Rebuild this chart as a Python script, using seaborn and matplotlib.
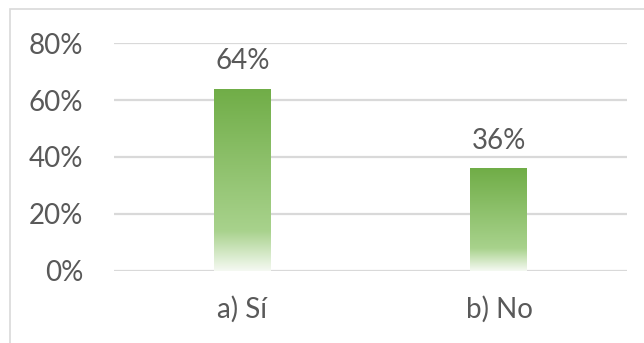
import numpy as np
import pandas as pd
import matplotlib
matplotlib.use("Agg")
import matplotlib.pyplot as plt
import seaborn as sns
from matplotlib.colors import LinearSegmentedColormap
from matplotlib.patches import Rectangle

categories = ["a) Sí", "b) No"]
values = [0.64, 0.36]
y_ticks = [0.0, 0.2, 0.4, 0.6, 0.8]
y_tick_labels = ["0%", "20%", "40%", "60%", "80%"]

sns.set_theme(style="white")
plt.rcParams["font.family"] = ["Lato", "DejaVu Sans"]

text_color = "#595959"
grid_color = "#d9d9d9"

fig = plt.figure(figsize=(6.44, 3.43), dpi=100)
ax = fig.add_axes([0.177, 0.210, 0.797, 0.6646])

df = pd.DataFrame({"cat": categories, "val": values})
sns.barplot(data=df, x="cat", y="val", ax=ax, width=0.222,
            color="#70AD47", edgecolor="none", linewidth=0, zorder=3)

ax.set_ylim(0, 0.8)
ax.set_xlim(-0.5, 1.5)
ax.set_yticks(y_ticks)
ax.set_yticklabels(y_tick_labels)
ax.set_xlabel("")
ax.set_ylabel("")
for s in ax.spines.values():
    s.set_visible(False)
ax.yaxis.grid(True, color=grid_color, linewidth=1.6, zorder=0)
ax.set_axisbelow(True)
ax.tick_params(axis="both", length=0, labelsize=20, colors=text_color)
ax.tick_params(axis="y", pad=22)
ax.tick_params(axis="x", pad=18)

# vertical gradient fill: dark green at the top fading to white at the base
cmap = LinearSegmentedColormap.from_list(
    "fade",
    [(0.0, (245 / 255, 249 / 255, 242 / 255)),
     (0.22, (168 / 255, 210 / 255, 140 / 255)),
     (1.0, (112 / 255, 173 / 255, 71 / 255))])
grad = np.linspace(0, 1, 256).reshape(-1, 1)
for patch in list(ax.patches):
    x0, y0 = patch.get_x(), patch.get_y()
    w, h = patch.get_width(), patch.get_height()
    im = ax.imshow(grad, cmap=cmap, aspect="auto", origin="lower",
                   extent=[x0, x0 + w, y0, y0 + h], zorder=4,
                   interpolation="bilinear")
    im.set_clip_path(patch)
    patch.set_facecolor("none")
    ax.text(x0 + w / 2, y0 + h + 0.05, f"{round(h * 100):d}%",
            ha="center", va="bottom", fontsize=20, color=text_color, zorder=5)

ax.set_xlim(-0.5, 1.5)
ax.set_ylim(0, 0.8)

# light frame around the chart area
fig.patches.append(Rectangle((10 / 644, -0.05), 1.1, 1 - 9 / 343 + 0.05,
                             transform=fig.transFigure, fill=False,
                             edgecolor="#d9d9d9", linewidth=1.2))

fig.savefig("out.png", dpi=100, facecolor="white")
